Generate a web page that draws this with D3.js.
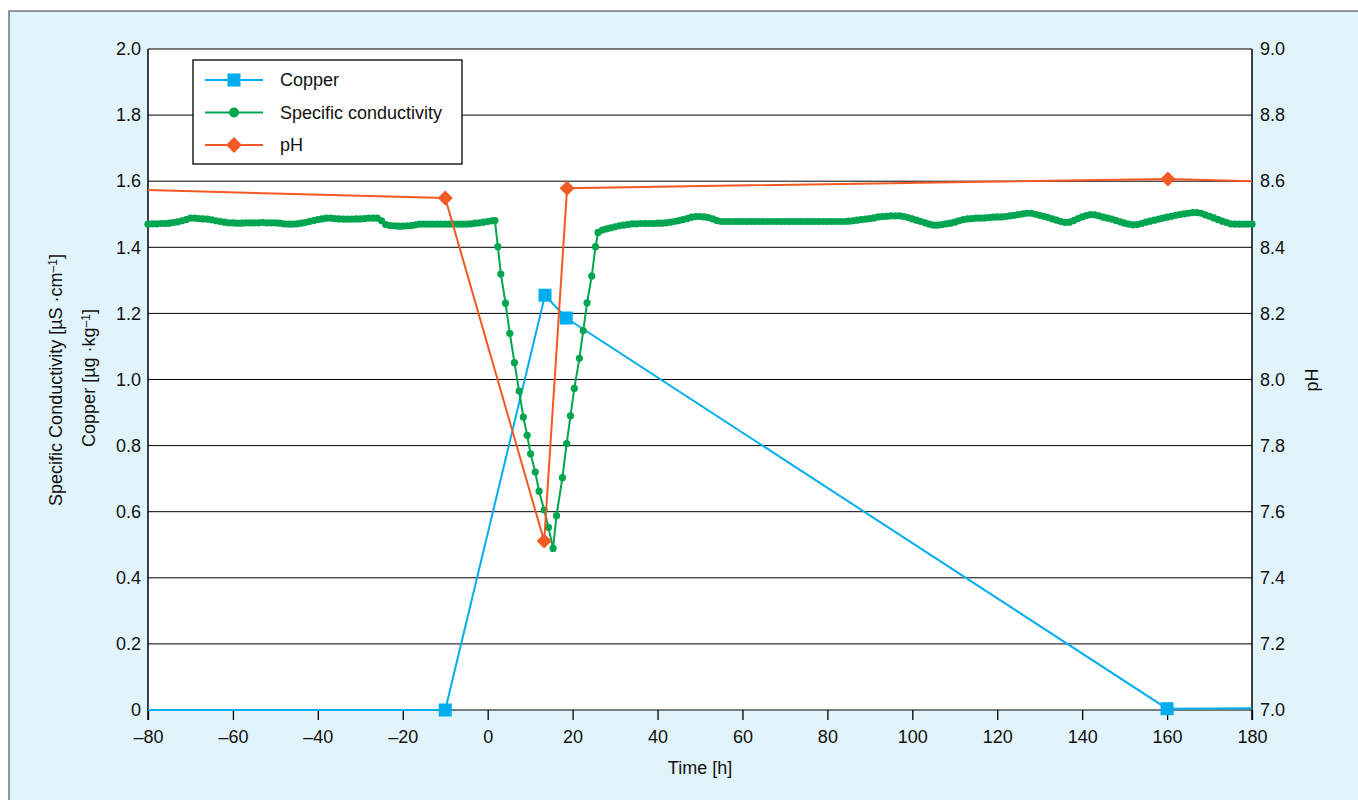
<!DOCTYPE html>
<html>
<head>
<meta charset="utf-8">
<script src="https://cdnjs.cloudflare.com/ajax/libs/d3/7.8.5/d3.min.js"></script>
<style>
  body { margin: 0; background: #fff; }
  svg { display: block; font-family: "Liberation Sans", Arial, sans-serif; }
</style>
</head>
<body>
<div class="chart"></div>
<script>
// ---- data ----
var xTicks = [-80, -60, -40, -20, 0, 20, 40, 60, 80, 100, 120, 140, 160, 180];
var leftTicks = [0, 0.2, 0.4, 0.6, 0.8, 1.0, 1.2, 1.4, 1.6, 1.8, 2.0];
var rightTicks = [7.0, 7.2, 7.4, 7.6, 7.8, 8.0, 8.2, 8.4, 8.6, 8.8, 9.0];

var copperTime = [-80, -10, 13.5, 18.5, 160, 180];
var copperValue = [0, 0, 1.255, 1.186, 0.004, 0.005];
var copperMark = [false, true, true, true, true, false];

var phTime = [-80, -10, 13.3, 18.7, 160.2, 180];
var phValue = [8.573, 8.549, 7.511, 8.579, 8.607, 8.600];
var phMark = [false, true, true, true, true, false];

// hourly logger readings before the event, from t = -80 h
var condBeforeStart = -80;
var condBefore = [
  1.470, 1.471, 1.471, 1.472, 1.472, 1.473, 1.475, 1.477, 1.480, 1.484,
  1.488, 1.488, 1.487, 1.486, 1.485, 1.483, 1.480, 1.478, 1.476, 1.474,
  1.474, 1.473, 1.473, 1.474, 1.474, 1.474, 1.474, 1.475, 1.474, 1.474,
  1.474, 1.473, 1.471, 1.470, 1.470, 1.471, 1.473, 1.475, 1.478, 1.481,
  1.484, 1.486, 1.488, 1.488, 1.487, 1.486, 1.485, 1.485, 1.485, 1.486,
  1.486, 1.487, 1.488, 1.488, 1.488, 1.480, 1.469, 1.466, 1.465, 1.464,
  1.464, 1.465, 1.466, 1.468, 1.470, 1.470, 1.470, 1.470, 1.470, 1.470,
  1.470, 1.470, 1.470, 1.470, 1.470, 1.470, 1.471, 1.473, 1.474, 1.476,
  1.478, 1.480
];
// readings through the dip
var condDipTime = [1.7, 2.4, 3.1, 4.2, 5.2, 6.3, 7.4, 8.4, 9.3, 10.1, 11.2, 12.1, 13.3, 14.3, 15.4,
  16.2, 17.6, 18.6, 19.5, 20.4, 21.6, 22.5, 23.4, 24.5, 25.4];
var condDipValue = [1.481, 1.402, 1.319, 1.231, 1.140, 1.051, 0.965, 0.886, 0.831, 0.775, 0.720, 0.662, 0.605, 0.553, 0.489,
  0.588, 0.703, 0.806, 0.890, 0.973, 1.064, 1.148, 1.232, 1.313, 1.402];
// hourly readings after recovery, from t = 26 h
var condAfterStart = 26;
var condAfter = [
  1.445, 1.452, 1.456, 1.459, 1.462, 1.465, 1.467, 1.469, 1.471, 1.471,
  1.472, 1.472, 1.472, 1.472, 1.473, 1.473, 1.474, 1.476, 1.478, 1.481,
  1.484, 1.487, 1.491, 1.493, 1.493, 1.492, 1.490, 1.486, 1.481, 1.478,
  1.478, 1.478, 1.478, 1.478, 1.478, 1.478, 1.478, 1.478, 1.478, 1.478,
  1.478, 1.478, 1.478, 1.478, 1.478, 1.478, 1.478, 1.478, 1.478, 1.478,
  1.478, 1.478, 1.478, 1.478, 1.478, 1.478, 1.478, 1.478, 1.478, 1.479,
  1.480, 1.482, 1.484, 1.485, 1.487, 1.489, 1.492, 1.493, 1.494, 1.495,
  1.495, 1.495, 1.493, 1.490, 1.486, 1.482, 1.478, 1.474, 1.470, 1.467,
  1.467, 1.469, 1.471, 1.473, 1.476, 1.480, 1.484, 1.486, 1.487, 1.488,
  1.488, 1.489, 1.490, 1.491, 1.492, 1.492, 1.493, 1.495, 1.497, 1.499,
  1.501, 1.503, 1.503, 1.500, 1.497, 1.494, 1.490, 1.486, 1.482, 1.478,
  1.475, 1.476, 1.481, 1.487, 1.492, 1.496, 1.499, 1.498, 1.495, 1.491,
  1.488, 1.485, 1.481, 1.477, 1.473, 1.470, 1.468, 1.469, 1.472, 1.476,
  1.479, 1.482, 1.485, 1.488, 1.491, 1.494, 1.497, 1.499, 1.501, 1.503,
  1.505, 1.505, 1.503, 1.498, 1.494, 1.489, 1.484, 1.479, 1.475, 1.471,
  1.470, 1.470, 1.470, 1.470, 1.470
];

var legendNames = ['Copper', 'Specific conductivity', 'pH'];
var colors = { copper: '#00aeef', cond: '#00a550', ph: '#f15a24' };

var drawChart = function() {
  var W = 1358, H = 800;
  var pLeft = 148, pRight = 1252, pTop = 49, pBottom = 710;
  var font = '"Liberation Sans", Arial, sans-serif';

  var svg = d3.select('.chart').append('svg')
    .attr('width', W)
    .attr('height', H);

  svg.append('rect')
    .attr('x', 9).attr('y', 11)
    .attr('width', W + 10).attr('height', H + 10)
    .attr('fill', '#e1f3fb')
    .attr('stroke', '#555')
    .attr('stroke-width', 1.2);

  svg.append('rect')
    .attr('x', pLeft).attr('y', pTop)
    .attr('width', pRight - pLeft).attr('height', pBottom - pTop)
    .attr('fill', '#fff');

  var x = d3.scaleLinear().domain([-80, 180]).range([pLeft, pRight]);
  var y = d3.scaleLinear().domain([0, 2]).range([pBottom, pTop]);
  var y2 = d3.scaleLinear().domain([7, 9]).range([pBottom, pTop]);

  var dash = function(v) { return v < 0 ? '\u2013' + Math.abs(v) : String(v); };

  /*--------------------------- GRID + AXES ---------------------------*/
  svg.append('g').selectAll('line').data(leftTicks).enter()
    .append('line')
    .attr('x1', pLeft).attr('x2', pRight)
    .attr('y1', function(d) { return y(d); })
    .attr('y2', function(d) { return y(d); })
    .attr('stroke', '#000')
    .attr('stroke-width', 1);

  var xAxis = svg.append('g')
    .attr('transform', 'translate(0,' + pBottom + ')')
    .call(d3.axisBottom(x).tickValues(xTicks).tickSize(10).tickPadding(10).tickFormat(dash));

  var yAxis = svg.append('g')
    .attr('transform', 'translate(' + pLeft + ',0)')
    .call(d3.axisLeft(y).tickValues(leftTicks).tickSize(0).tickPadding(7)
      .tickFormat(function(d) { return d === 0 ? '0' : d3.format('.1f')(d); }));

  var yAxis2 = svg.append('g')
    .attr('transform', 'translate(' + pRight + ',0)')
    .call(d3.axisRight(y2).tickValues(rightTicks).tickSize(0).tickPadding(8).tickFormat(d3.format('.1f')));

  [xAxis, yAxis, yAxis2].forEach(function(a) {
    a.select('.domain').remove();
    a.selectAll('text').attr('font-size', 18).attr('fill', '#111').attr('font-family', font);
    a.selectAll('line').attr('stroke', '#000').attr('stroke-width', 1.3);
  });

  // vertical frame lines
  [pLeft, pRight].forEach(function(px) {
    svg.append('line')
      .attr('x1', px).attr('x2', px)
      .attr('y1', pTop).attr('y2', pBottom + 10)
      .attr('stroke', '#000').attr('stroke-width', 1.5);
  });

  /*--------------------------- TITLES ---------------------------*/
  svg.append('text')
    .attr('x', (pLeft + pRight) / 2).attr('y', 774)
    .attr('text-anchor', 'middle')
    .attr('font-size', 18).attr('fill', '#111')
    .text('Time [h]');

  var t1 = svg.append('text')
    .attr('transform', 'translate(62,380) rotate(-90)')
    .attr('text-anchor', 'middle')
    .attr('font-size', 18).attr('fill', '#111');
  t1.append('tspan').text('Specific Conductivity [\u00b5S \u00b7cm');
  t1.append('tspan').attr('baseline-shift', '40%').attr('font-size', 12).text('\u20131');
  t1.append('tspan').text(']');

  var t2 = svg.append('text')
    .attr('transform', 'translate(95,378) rotate(-90)')
    .attr('text-anchor', 'middle')
    .attr('font-size', 18).attr('fill', '#111');
  t2.append('tspan').text('Copper [\u00b5g \u00b7kg');
  t2.append('tspan').attr('baseline-shift', '40%').attr('font-size', 12).text('\u20131');
  t2.append('tspan').text(']');

  svg.append('text')
    .attr('transform', 'translate(1318,380) rotate(-90)')
    .attr('text-anchor', 'middle')
    .attr('font-size', 18).attr('fill', '#111')
    .text('pH');

  /*--------------------------- SERIES ---------------------------*/
  var copperData = copperTime.map(function(t, i) { return { t: t, v: copperValue[i], m: copperMark[i] }; });
  var phData = phTime.map(function(t, i) { return { t: t, v: phValue[i], m: phMark[i] }; });

  var condData = [];
  condBefore.forEach(function(v, i) { condData.push({ t: condBeforeStart + i, v: v }); });
  condDipTime.forEach(function(t, i) { condData.push({ t: t, v: condDipValue[i] }); });
  condAfter.forEach(function(v, i) { condData.push({ t: condAfterStart + i, v: v }); });

  var lineL = d3.line().x(function(d) { return x(d.t); }).y(function(d) { return y(d.v); });
  var lineR = d3.line().x(function(d) { return x(d.t); }).y(function(d) { return y2(d.v); });

  // copper
  svg.append('path').datum(copperData)
    .attr('d', lineL).attr('fill', 'none')
    .attr('stroke', colors.copper).attr('stroke-width', 2);
  svg.append('g').selectAll('rect').data(copperData.filter(function(d) { return d.m; })).enter()
    .append('rect')
    .attr('x', function(d) { return x(d.t) - 6.5; })
    .attr('y', function(d) { return y(d.v) - 6.5; })
    .attr('width', 13).attr('height', 13)
    .attr('fill', colors.copper);

  // specific conductivity
  svg.append('path').datum(condData)
    .attr('d', lineL).attr('fill', 'none')
    .attr('stroke', colors.cond).attr('stroke-width', 2);
  svg.append('g').selectAll('circle').data(condData).enter()
    .append('circle')
    .attr('cx', function(d) { return x(d.t); })
    .attr('cy', function(d) { return y(d.v); })
    .attr('r', 3.6)
    .attr('fill', colors.cond);

  // pH
  svg.append('path').datum(phData)
    .attr('d', lineR).attr('fill', 'none')
    .attr('stroke', colors.ph).attr('stroke-width', 2);
  svg.append('g').selectAll('path').data(phData.filter(function(d) { return d.m; })).enter()
    .append('path')
    .attr('transform', function(d) { return 'translate(' + x(d.t) + ',' + y2(d.v) + ')'; })
    .attr('d', 'M0,-7.5L7.5,0L0,7.5L-7.5,0Z')
    .attr('fill', colors.ph);

  /*--------------------------- LEGEND ---------------------------*/
  var legend = svg.append('g').attr('transform', 'translate(193,60)');
  legend.append('rect')
    .attr('width', 269).attr('height', 104)
    .attr('fill', '#fff').attr('stroke', '#000').attr('stroke-width', 1.3);

  var keys = ['copper', 'cond', 'ph'];
  var rows = legend.selectAll('.row').data(legendNames).enter()
    .append('g')
    .attr('transform', function(d, i) { return 'translate(0,' + (20 + i * 32.5) + ')'; });

  rows.append('line')
    .attr('x1', 12).attr('x2', 70)
    .attr('stroke', function(d, i) { return colors[keys[i]]; })
    .attr('stroke-width', 2);

  rows.each(function(d, i) {
    var g = d3.select(this);
    var c = colors[keys[i]];
    if (i === 0) g.append('rect').attr('x', 34.5).attr('y', -6.5).attr('width', 13).attr('height', 13).attr('fill', c);
    if (i === 1) g.append('circle').attr('cx', 41).attr('r', 5).attr('fill', c);
    if (i === 2) g.append('path').attr('transform', 'translate(41,0)').attr('d', 'M0,-8L8,0L0,8L-8,0Z').attr('fill', c);
  });

  rows.append('text')
    .attr('x', 87).attr('dy', '0.35em')
    .attr('font-size', 18).attr('fill', '#111').attr('font-family', font)
    .text(function(d) { return d; });
};

drawChart();
</script>
</body>
</html>
